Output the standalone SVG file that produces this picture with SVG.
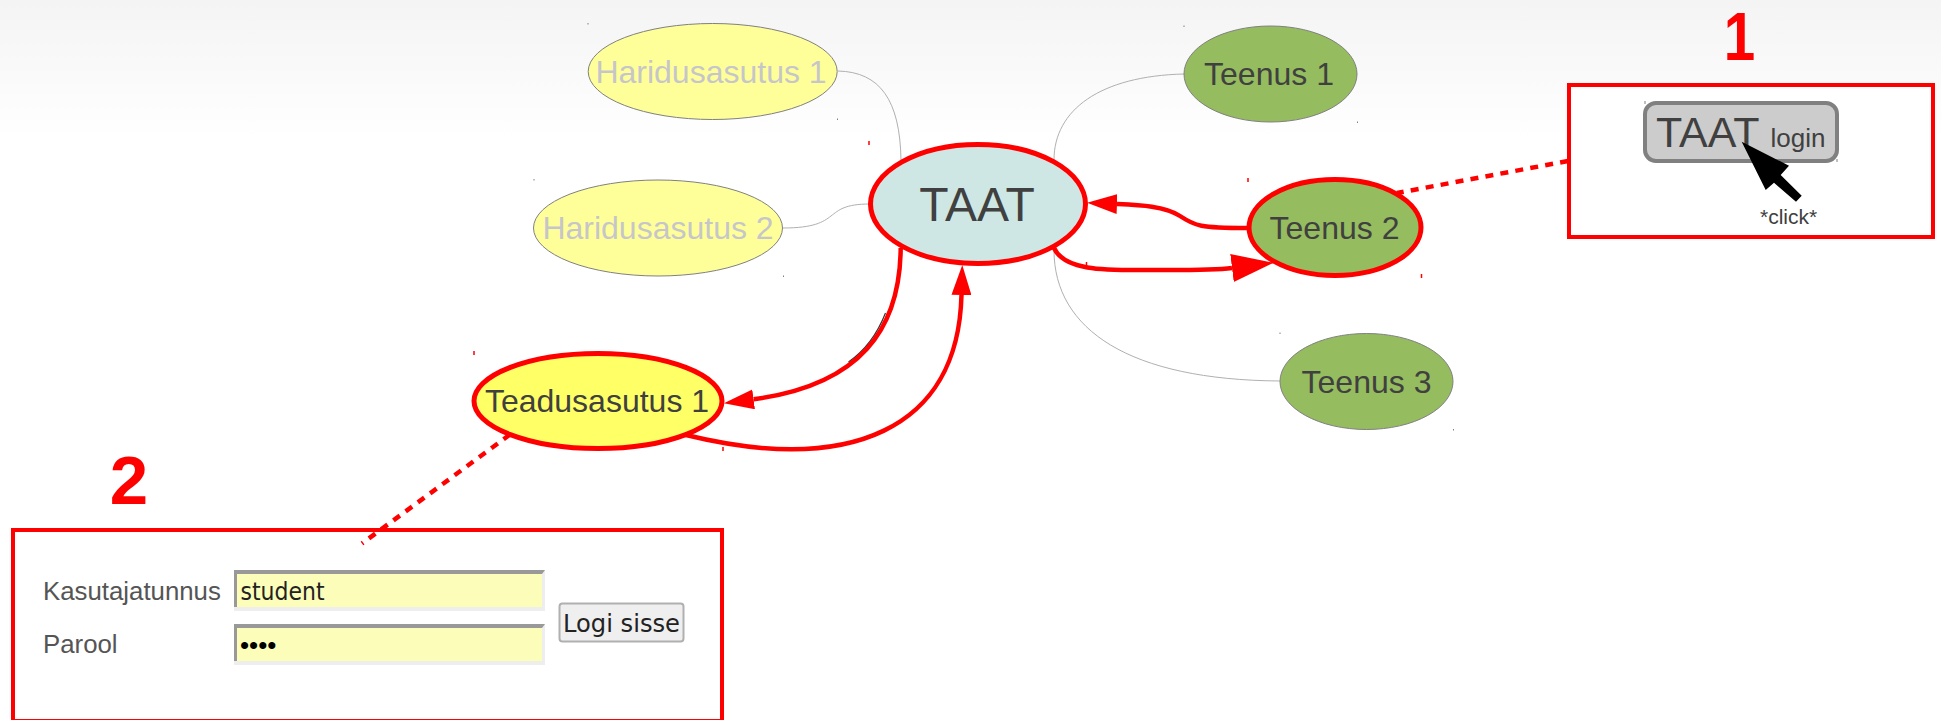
<svg xmlns="http://www.w3.org/2000/svg" width="1941" height="720" viewBox="0 0 1941 720">
<style>
text{font-family:"Liberation Sans",Arial,sans-serif;fill:#404040}
.n{text-anchor:middle}
.plain{stroke:#808080;stroke-width:1}
.hi{stroke:#ff0000;stroke-width:5}
.hari{fill:#ffff99}
.hari+text{fill:#c6c6ca}
.svc{fill:#95bc5f}
.thin{fill:none;stroke:#b0b0b0;stroke-width:1}
.red{fill:none;stroke:#ff0000;stroke-width:4.5}
.dash{fill:none;stroke:#ff0000;stroke-width:4.5;stroke-dasharray:8 7.2}
.box{fill:#fff;stroke:#ff0000;stroke-width:4}
.num{font-weight:bold;font-size:69px;fill:#ff0000;text-anchor:middle}
.field{fill:#fbfdb9}
.lab{font-size:25.8px;fill:#555}
.dv{font-family:"DejaVu Sans",sans-serif;fill:#222;font-size:25px}
</style>
<defs>
<linearGradient id="bg" x1="0" y1="0" x2="0" y2="1"><stop offset="0" stop-color="#f4f4f4"/><stop offset="1" stop-color="#ffffff"/></linearGradient>
<marker id="arrow" markerUnits="userSpaceOnUse" markerWidth="30" markerHeight="20" viewBox="0 0 30 20" refX="0" refY="10" orient="auto"><path d="M0,0L30,10L0,20Z" fill="#ff0000"/></marker>
<marker id="arrowBig" markerUnits="userSpaceOnUse" markerWidth="42" markerHeight="28" viewBox="0 0 42 28" refX="0" refY="14" orient="auto"><path d="M0,0L42,14L0,28Z" fill="#ff0000"/></marker>
</defs>
<rect id="background" width="1941" height="140" fill="url(#bg)"/>
<g id="connectors">
<path class="thin" d="M838,71C880,72 900,100 901,160"/>
<path class="thin" d="M783,228C845,228 820,204 870,204"/>
<path class="thin" d="M1184,74C1100,76 1054,110 1054,160"/>
<path class="thin" d="M1280,381C1130,380 1054,330 1054,250"/>
<path d="M885.5,313Q873,345 848.5,362" fill="none" stroke="#333" stroke-width="1.2"/>
<path class="red" d="M900.7,248C900,330 860,385 753.6,399.3" marker-end="url(#arrow)"/>
<path class="red" d="M686,435C850,475 958,430 961.5,295" marker-end="url(#arrow)"/>
<path class="red" d="M1054,248C1065,272 1110,270 1150,270C1180,270 1212,270.5 1232,268" marker-end="url(#arrowBig)"/>
<path class="red" d="M1247,228C1200,228 1195,226 1180,216C1165,206 1140,205 1117,204" marker-end="url(#arrow)"/>
</g>
<g id="node-haridusasutus-1"><ellipse class="plain hari" cx="712.7" cy="71.5" rx="124.5" ry="48"/><text class="n" x="711" y="82.5" font-size="32">Haridusasutus 1</text></g>
<g id="node-haridusasutus-2"><ellipse class="plain hari" cx="658" cy="228" rx="124.5" ry="48"/><text class="n" x="658" y="238.5" font-size="32">Haridusasutus 2</text></g>
<g id="node-taat"><ellipse class="hi" fill="#cfe7e4" cx="978" cy="204" rx="107.5" ry="59.5"/><text class="n" x="977" y="221" font-size="48">TAAT</text></g>
<g id="node-teenus-1"><ellipse class="plain svc" cx="1270.5" cy="74" rx="86.5" ry="48"/><text class="n" x="1269" y="85" font-size="32">Teenus 1</text></g>
<g id="node-teenus-2"><ellipse class="hi svc" cx="1335" cy="227.5" rx="86" ry="48"/><text class="n" x="1334.5" y="238.5" font-size="32">Teenus 2</text></g>
<g id="node-teenus-3"><ellipse class="plain svc" cx="1366.5" cy="381.5" rx="86.5" ry="48"/><text class="n" x="1366.5" y="392.5" font-size="32">Teenus 3</text></g>
<g id="node-teadusasutus-1"><ellipse class="hi" fill="#ffff66" cx="598" cy="401" rx="124" ry="47.5"/><text class="n" x="597" y="412" font-size="32">Teadusasutus 1</text></g>
<g id="callout-1">
<line class="dash" x1="1568" y1="161" x2="1397" y2="193"/>
<rect class="box" x="1569" y="85" width="364" height="152"/>
<text class="num" transform="translate(1739.5 60) scale(.82 1)">1</text>
<rect x="1645" y="103" width="192" height="58" rx="11" fill="#cccccc" stroke="#808080" stroke-width="4"/>
<text x="1656" y="147" font-size="43">TAAT</text>
<text x="1770.5" y="147" font-size="26">login</text>
<path d="M1741.7,141.7L1789,165.7L1780.7,175L1801.7,195.7L1796,201.7L1774,182.7L1765.7,190Z" fill="#000"/>
<text x="1760" y="224" font-size="21">*click*</text>
</g>
<g id="callout-2">
<rect class="box" x="13" y="530" width="709" height="191"/>
<line class="dash" x1="510" y1="434.5" x2="362" y2="543.5"/>
<text class="num" x="129" y="504">2</text>
<text class="lab" x="43" y="600">Kasutajatunnus</text>
<text class="lab" x="43" y="653">Parool</text>
<g id="field-user">
<rect class="field" x="234" y="570" width="311" height="41"/>
<path d="M234,570H545V574H237V611H234Z" fill="#999"/>
<path d="M545,570V611H234V607H542V574Z" fill="#eee"/>
<text class="dv" x="240.5" y="600" textLength="84" lengthAdjust="spacingAndGlyphs">student</text>
</g>
<g id="field-password">
<rect class="field" x="234" y="624" width="311" height="41"/>
<path d="M234,624H545V628H237V665H234Z" fill="#999"/>
<path d="M545,624V665H234V661H542V628Z" fill="#eee"/>
<text x="240" y="654" font-size="26" style="fill:#000">••••</text>
</g>
<g id="button-login">
<rect x="559.5" y="603.5" width="124" height="38" rx="3" fill="#efefef" stroke="#b0b0b0" stroke-width="2"/>
<text class="dv" x="563" y="632" textLength="117" lengthAdjust="spacingAndGlyphs">Logi sisse</text>
</g>
</g>
<g id="specks">
<path d="M869,141v4M1086.5,262v4M1248,178v4M1421.5,274v4M474,351v4M723,447v4" stroke="#ff0000" stroke-width="1.5"/>
<path d="M588,23v1.5M837.5,118.5v1.5M534,179v1.5M783.5,275.5v1.5M1184,25.5v1.5M1357.5,121.5v1.5M1280,332.5v1.5M1453.5,429v1.5M1645,101v3M1837,159v3" stroke="#808080" stroke-width="1"/>
</g>
</svg>
